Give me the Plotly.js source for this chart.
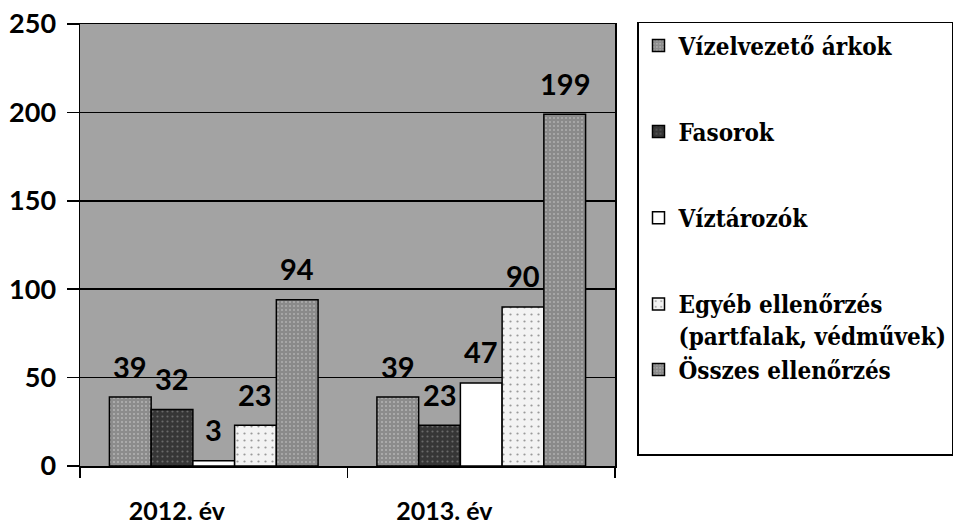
<!DOCTYPE html>
<html>
<head>
<meta charset="utf-8">
<script src="https://cdn.plot.ly/plotly-3.0.1.min.js"></script>
<style>html,body{margin:0;padding:0;background:#fff;}#chart{width:971px;height:528px;}</style>
</head>
<body>
<div id="chart"></div>
<script>
const categories = ["2012. év", "2013. év"];
const seriesNames = ["Vízelvezető árkok", "Fasorok", "Víztározók", "Egyéb ellenőrzés<br>(partfalak, védművek)", "Összes ellenőrzés<br> <br> "];
const vizelvezeto = [39, 39];
const fasorok = [32, 23];
const viztarozok = [3, 47];
const egyeb = [23, 90];
const osszes = [94, 199];
const yTickVals = [0, 50, 100, 150, 200, 250];
const yTickText = ["0", "50", "100", "150", "200", "250"];

const seriesValues = [vizelvezeto, fasorok, viztarozok, egyeb, osszes];
const legendGroups = ["g1", "g2", "g3", "g4", "g4"];
const fills = ["#8c8c8c", "#363636", "#ffffff", "#f3f3f3", "#8a8a8a"];
const patterns = [
  {shape: ".", fgcolor: "#b4b4b4", bgcolor: "#8c8c8c", size: 4, solidity: 0.2},
  {shape: ".", fgcolor: "#6a6a6a", bgcolor: "#363636", size: 5, solidity: 0.15},
  {shape: ""},
  {shape: ".", fgcolor: "#9a9a9a", bgcolor: "#f3f3f3", size: 7, solidity: 0.08},
  {shape: ".", fgcolor: "#b0b0b0", bgcolor: "#8a8a8a", size: 4, solidity: 0.2}
];

const W = 971, H = 528;
const margin = {l: 80, r: 356, t: 24, b: 62};
const bargap = 0.22;
const plotW = W - margin.l - margin.r;
const catW = plotW / categories.length;
const barW = catW * (1 - bargap) / seriesValues.length;

const sansBold = {family: "Lato", color: "#000", weight: "bold"};

const traces = seriesValues.map((vals, i) => ({
  type: "bar",
  name: seriesNames[i],
  x: categories,
  y: vals,
  legendgroup: legendGroups[i],
  marker: {color: fills[i], line: {color: "#000", width: 1.5}, pattern: patterns[i]},
  hoverinfo: "skip"
}));

const annotations = [];
seriesValues.forEach((vals, i) => {
  vals.forEach((v, j) => {
    annotations.push({
      x: categories[j], y: v, xref: "x", yref: "y",
      text: String(v), showarrow: false,
      xshift: (i - (seriesValues.length - 1) / 2) * barW,
      yshift: 31, yanchor: "middle",
      font: Object.assign({}, sansBold, {size: 29})
    });
  });
});

const layout = {
  width: W, height: H,
  margin: margin,
  font: {family: "Lato"},
  paper_bgcolor: "#ffffff",
  plot_bgcolor: "#a3a3a3",
  barmode: "group",
  bargap: bargap,
  bargroupgap: 0,
  showlegend: true,
  legend: {
    x: (637 - margin.l) / plotW, xanchor: "left",
    y: 1.005, yanchor: "top",
    bordercolor: "#000", borderwidth: 1.5, bgcolor: "#fff",
    font: {family: "DejaVu Serif Condensed, DejaVu Serif", size: 24, color: "#000", weight: 700},
    tracegroupgap: 52,
    itemwidth: 30,
    valign: "top",
    maxheight: 600
  },
  xaxis: {
    type: "category",
    tickson: "boundaries",
    ticks: "outside", ticklen: 10, tickwidth: 1.5, tickcolor: "#000",
    showline: true, linecolor: "#000", linewidth: 1.5, mirror: true,
    ticklabelshift: -37, ticklabelstandoff: 22,
    tickfont: Object.assign({}, sansBold, {size: 25}),
    showgrid: false, fixedrange: true
  },
  yaxis: {
    range: [0, 250],
    tickvals: yTickVals, ticktext: yTickText,
    ticks: "outside", ticklen: 12, tickwidth: 1.5, tickcolor: "#000",
    showline: true, linecolor: "#000", linewidth: 1.5, mirror: true,
    showgrid: true, gridcolor: "#000", gridwidth: 1.5,
    zeroline: false,
    ticklabelstandoff: 5,
    tickfont: Object.assign({}, sansBold, {size: 27}),
    fixedrange: true
  },
  annotations: annotations
};

Plotly.newPlot("chart", traces, layout, {displayModeBar: false, staticPlot: true});
</script>
</body>
</html>
